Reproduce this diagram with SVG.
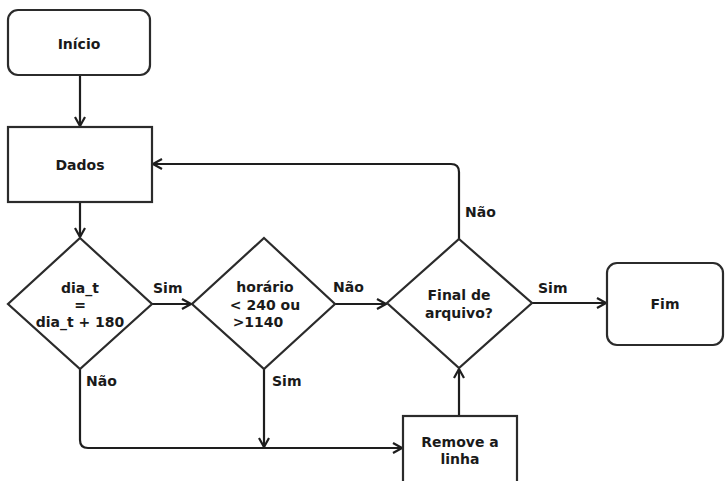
<svg xmlns="http://www.w3.org/2000/svg" width="725" height="481" viewBox="0 0 725 481">
<style>
.s{fill:#fff;stroke:#2b2b2b;stroke-width:2.2}
.c{fill:none;stroke:#1e1e1e;stroke-width:2.2}
text{font-family:"DejaVu Sans","Verdana",sans-serif;font-weight:bold;font-size:14px;fill:#1a1a1a}
.m{text-anchor:middle}
</style>
<defs>
<marker id="a" viewBox="0 0 12 12" refX="11" refY="6" markerWidth="12" markerHeight="12" markerUnits="userSpaceOnUse" orient="auto">
<path d="M2,1 L11,6 L2,11" fill="none" stroke="#1e1e1e" stroke-width="2.2"/>
</marker>
</defs>
<rect width="725" height="481" fill="#fff"/>
<g id="connectors">
<path class="c" d="M80,76 V126" marker-end="url(#a)"/>
<path class="c" d="M80,203 V237" marker-end="url(#a)"/>
<path class="c" d="M152,304 H191" marker-end="url(#a)"/>
<path class="c" d="M335,304 H386" marker-end="url(#a)"/>
<path class="c" d="M532,303 H606" marker-end="url(#a)"/>
<path class="c" d="M459,239 V172 Q459,164 451,164 H153" marker-end="url(#a)"/>
<path class="c" d="M80,369 V440 Q80,448 88,448 H402" marker-end="url(#a)"/>
<path class="c" d="M264,369 V447" marker-end="url(#a)"/>
<path class="c" d="M459,415 V369" marker-end="url(#a)"/>
<text x="153" y="293">Sim</text>
<text x="86" y="386">Não</text>
<text x="333" y="292">Não</text>
<text x="272" y="386">Sim</text>
<text x="465" y="217">Não</text>
<text x="538" y="293">Sim</text>
</g>
<g id="inicio">
<rect class="s" x="8" y="10" width="142" height="65" rx="10"/>
<text class="m" x="79" y="49">Início</text>
</g>
<g id="dados">
<rect class="s" x="8" y="127" width="144" height="75"/>
<text class="m" x="80" y="170">Dados</text>
</g>
<g id="dia">
<polygon class="s" points="80,238 152,304 80,369 8,304"/>
<text class="m" x="80" y="293">dia_t</text>
<text class="m" x="80" y="310">=</text>
<text class="m" x="80" y="327">dia_t + 180</text>
</g>
<g id="horario">
<polygon class="s" points="264,238 335,304 264,369 192,304"/>
<text class="m" x="265" y="292">horário</text>
<text class="m" x="265" y="310">&lt; 240 ou</text>
<text class="m" x="258" y="327">&gt;1140</text>
</g>
<g id="final">
<polygon class="s" points="459,239 532,303 459,368 387,303"/>
<text class="m" x="459" y="300">Final de</text>
<text class="m" x="459" y="318">arquivo?</text>
</g>
<g id="fim">
<rect class="s" x="607" y="263" width="116" height="82" rx="10"/>
<text class="m" x="665" y="309">Fim</text>
</g>
<g id="remove">
<rect class="s" x="403" y="416" width="114" height="80"/>
<text class="m" x="460" y="447">Remove a</text>
<text class="m" x="460" y="464">linha</text>
</g>
</svg>
